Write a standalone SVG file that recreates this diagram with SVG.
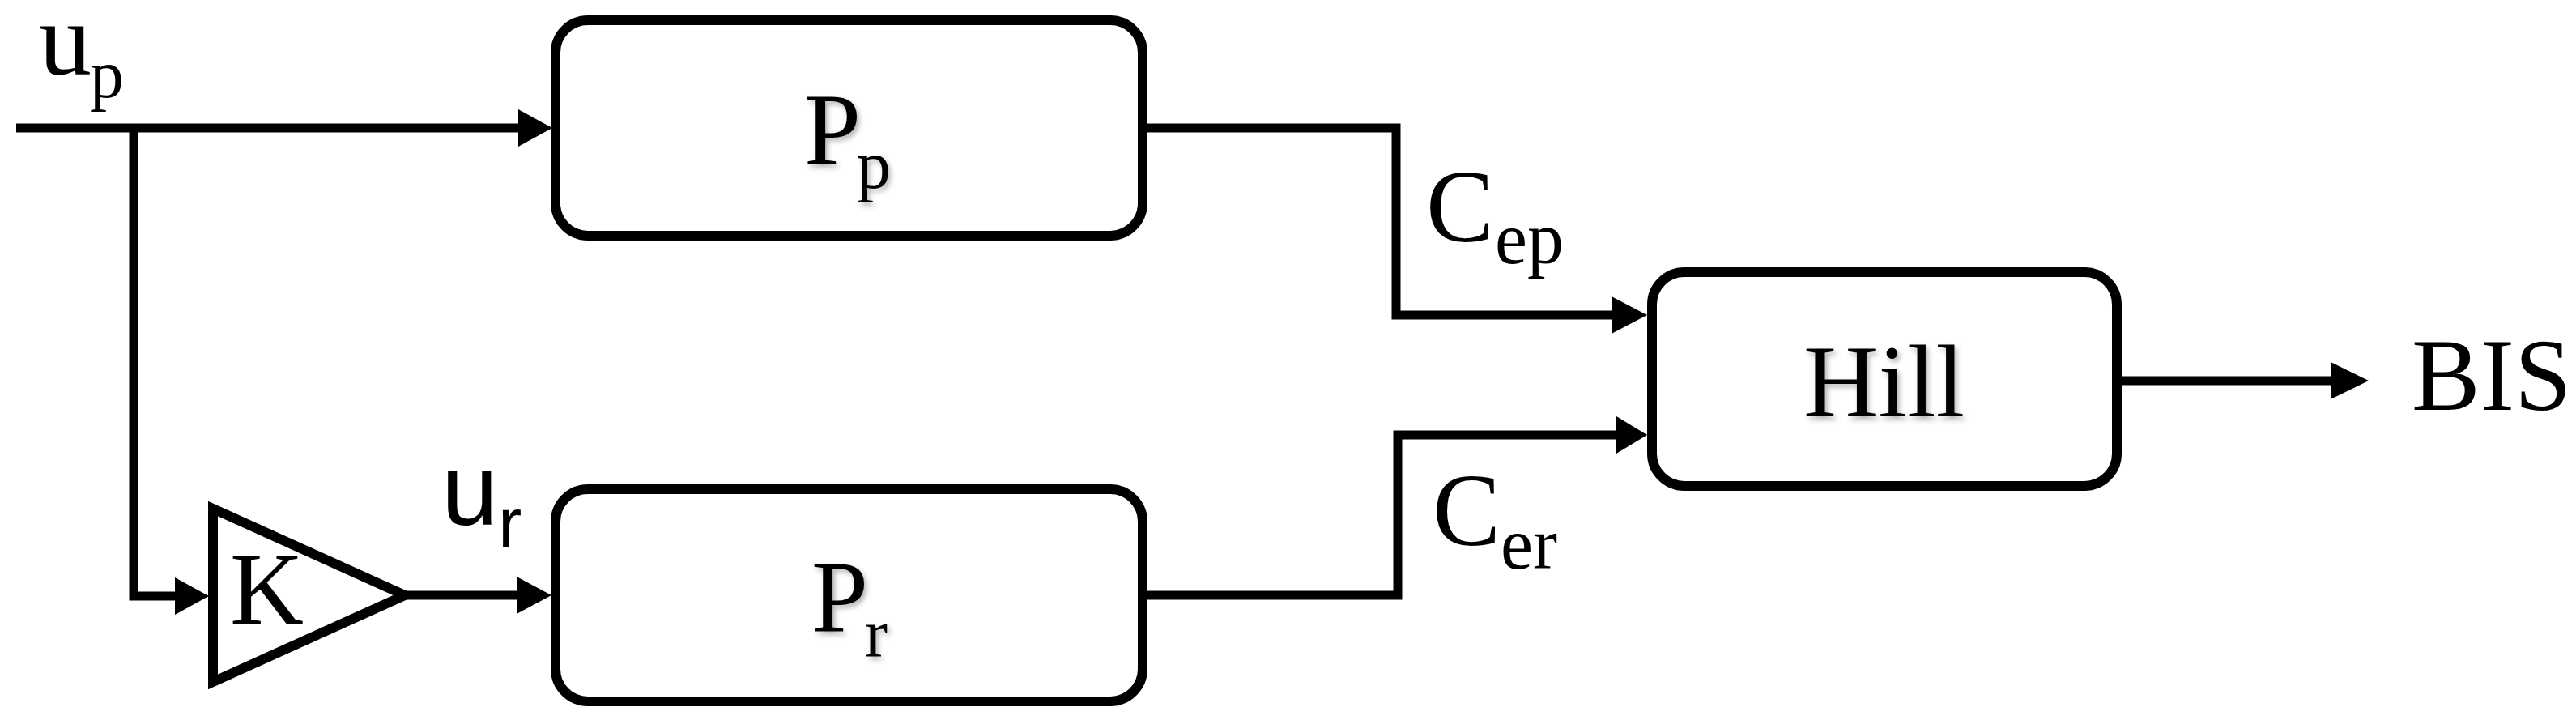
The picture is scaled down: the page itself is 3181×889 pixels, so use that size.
<svg xmlns="http://www.w3.org/2000/svg" width="3181" height="889" viewBox="0 0 3181 889">
<defs>
<style>
.box{fill:#fff;stroke:#000;stroke-width:12}
.ln{fill:none;stroke:#000;stroke-width:11;stroke-linejoin:miter;stroke-linecap:butt}
.ah{fill:#000;stroke:none}
.t{font-family:"Liberation Serif","Times New Roman",serif;fill:#000}
.s{font-family:"Liberation Sans",Arial,sans-serif;fill:#000}
.sh{filter:url(#shadow)}
</style>
<filter id="shadow" x="-20%" y="-20%" width="140%" height="140%">
<feDropShadow dx="3" dy="4" stdDeviation="3" flood-color="#000" flood-opacity="0.3"/>
</filter>
</defs>
<rect width="3181" height="889" fill="#fff"/>
<g id="connectors">
<path class="ln" d="M20 158 H642"/>
<polygon class="ah" points="640,135 682,158 640,181"/>
<path class="ln" d="M165 158 V736 H218"/>
<polygon class="ah" points="216,713 258,736 216,759"/>
<path class="ln" d="M500 735 H640"/>
<polygon class="ah" points="638,712 681,735 638,758"/>
<path class="ln" d="M1417 158 H1724 V389 H1992"/>
<polygon class="ah" points="1990,366 2034,389 1990,412"/>
<path class="ln" d="M1417 735 H1726 V537 H1998"/>
<polygon class="ah" points="1996,514 2034,537 1996,560"/>
<path class="ln" d="M2620 470 H2880"/>
<polygon class="ah" points="2878,447 2925,470 2878,493"/>
</g>
<g id="node-Pp">
<rect class="box" x="686" y="25" width="725" height="266" rx="40" ry="40"/>
<g class="sh"><text class="t" x="993" y="203" font-size="126">P</text><text class="t" x="1058" y="232" font-size="84">p</text></g>
</g>
<g id="node-Pr">
<rect class="box" x="686" y="604" width="725" height="262" rx="40" ry="40"/>
<g class="sh"><text class="t" x="1002" y="780" font-size="126">P</text><text class="t" x="1068" y="810" font-size="84">r</text></g>
</g>
<g id="node-K">
<polygon class="box" points="263,628 263,842 500,735"/>
<text class="t" x="284" y="770" font-size="126">K</text>
</g>
<g id="node-Hill">
<rect class="box" x="2040" y="336" width="574" height="264" rx="40" ry="40"/>
<g class="sh"><text class="t" x="2227" y="514" font-size="128">Hill</text></g>
</g>
<g id="labels">
<text class="t" x="48" y="92" font-size="130">u</text><text class="t" x="111" y="120" font-size="84">p</text>
<text class="s" x="545" y="648" font-size="126">u</text><text class="s" x="615" y="676" font-size="88">r</text>
<text class="t" x="1761" y="298" font-size="126">C</text><text class="t" x="1846" y="325" font-size="90">ep</text>
<text class="t" x="1769" y="673" font-size="126">C</text><text class="t" x="1853" y="702" font-size="90">er</text>
<text class="t" x="2978" y="506" font-size="127">BIS</text>
</g>
</svg>
